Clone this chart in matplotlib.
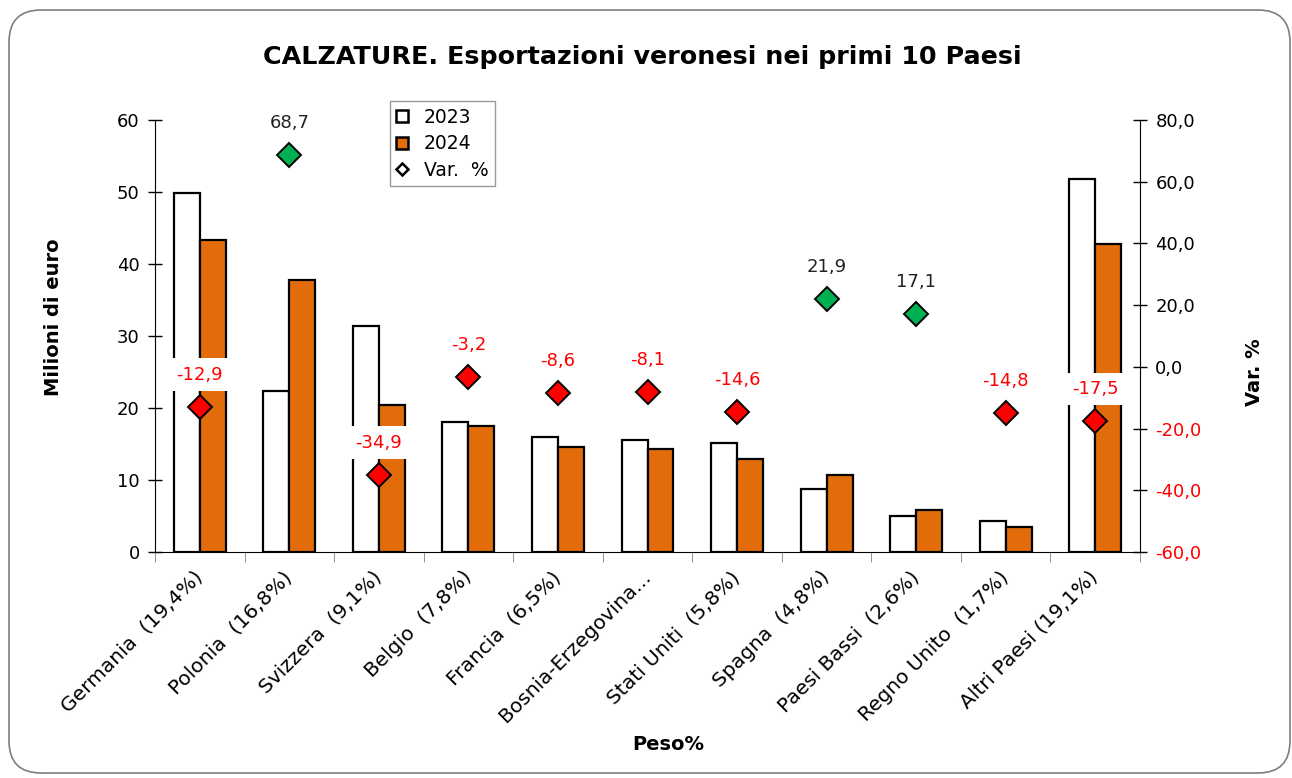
import matplotlib
matplotlib.use("Agg")
import matplotlib.pyplot as plt
import numpy as np
from matplotlib.lines import Line2D
from matplotlib.patches import FancyBboxPatch
from matplotlib.ticker import FuncFormatter

paesi = [
    "Germania  (19,4%)",
    "Polonia  (16,8%)",
    "Svizzera  (9,1%)",
    "Belgio  (7,8%)",
    "Francia  (6,5%)",
    "Bosnia-Erzegovina...",
    "Stati Uniti  (5,8%)",
    "Spagna  (4,8%)",
    "Paesi Bassi  (2,6%)",
    "Regno Unito  (1,7%)",
    "Altri Paesi (19,1%)",
]
val_2023 = [49.9, 22.4, 31.4, 18.1, 16.0, 15.6, 15.1, 8.8, 5.0, 4.3, 51.8]
val_2024 = [43.3, 37.8, 20.4, 17.5, 14.6, 14.3, 12.9, 10.7, 5.8, 3.5, 42.8]
var_pct = [-12.9, 68.7, -34.9, -3.2, -8.6, -8.1, -14.6, 21.9, 17.1, -14.8, -17.5]

ORANGE = "#E36C0A"
GREEN = "#00B050"
RED = "#FF0000"

plt.rcParams["font.family"] = ["DejaVu Sans"]

fig = plt.figure(figsize=(12.92, 7.78), dpi=100)

# rounded frame round the whole chart
bg = fig.add_axes([0, 0, 1, 1], zorder=-10)
bg.set_xlim(0, 1292)
bg.set_ylim(778, 0)
bg.axis("off")
bg.add_patch(FancyBboxPatch((9, 10), 1281, 763,
                            boxstyle="round,pad=0,rounding_size=32",
                            facecolor="white", edgecolor="#7f7f7f", linewidth=1.2))

ax = fig.add_axes([155 / 1292, 1 - 552 / 778, 985 / 1292, 432 / 778])
ax.patch.set_alpha(0)
x = np.arange(len(paesi))
w = 0.29

ax.bar(x - w / 2, val_2023, w, color="white", edgecolor="black", linewidth=1.6, zorder=2)
ax.bar(x + w / 2, val_2024, w, color=ORANGE, edgecolor="black", linewidth=1.6, zorder=2)

ax.set_xlim(-0.5, len(paesi) - 0.5)
ax.set_ylim(0, 60)
ax.set_yticks(np.arange(0, 61, 10))
ax.tick_params(axis="y", direction="inout", length=10, width=1, labelsize=13, pad=6)
ax.set_xticks(x)
ax.set_xticklabels(paesi, rotation=45, ha="right", va="center",
                   rotation_mode="anchor", fontsize=14.5)
ax.tick_params(axis="x", which="major", length=0, pad=16)
ax.set_xticks(np.arange(-0.5, len(paesi), 1), minor=True)
ax.tick_params(axis="x", which="minor", direction="out", length=7, color="#808080")
for s in ["top", "right"]:
    ax.spines[s].set_visible(False)
ax.set_ylabel("Milioni di euro", fontsize=14, fontweight="bold")
ax.yaxis.set_label_coords(-0.0934, 0.544)
ax.set_xlabel("Peso%", fontsize=14, fontweight="bold")
ax.xaxis.set_label_coords(0.521, -0.424)

ax2 = ax.twinx()
ax2.set_ylim(-60, 80)
ax2.set_yticks(np.arange(-60, 81, 20))
ax2.yaxis.set_major_formatter(FuncFormatter(lambda v, p: f"{v:.1f}".replace(".", ",")))
ax2.tick_params(axis="y", direction="inout", length=10, width=1, labelsize=13, pad=6)
for lbl, v in zip(ax2.get_yticklabels(), np.arange(-60, 81, 20)):
    lbl.set_color(RED if v < 0 else "black")
for s in ["top", "left", "bottom"]:
    ax2.spines[s].set_visible(False)
ax2.set_ylabel("Var. %", fontsize=14, fontweight="bold")
ax2.yaxis.set_label_coords(1.1066, 0.417)

for xi, v in zip(x, var_pct):
    col = RED if v < 0 else GREEN
    ax2.plot(xi, v, marker="D", markersize=12.5, markerfacecolor=col,
             markeredgecolor="black", markeredgewidth=1.4, linestyle="none", zorder=5)
    ax2.annotate(f"{v:.1f}".replace(".", ","), (xi, v), xytext=(0, 23),
                 textcoords="offset points", ha="center", va="center",
                 fontsize=13, color=RED if v < 0 else "#222222",
                 bbox=dict(boxstyle="square,pad=0.4", facecolor="white", edgecolor="none"),
                 zorder=4)

handles = [
    Line2D([], [], marker="s", linestyle="none", markersize=9,
           markerfacecolor="white", markeredgecolor="black", markeredgewidth=1.8),
    Line2D([], [], marker="s", linestyle="none", markersize=9,
           markerfacecolor=ORANGE, markeredgecolor="black", markeredgewidth=1.8),
    Line2D([], [], marker="D", linestyle="none", markersize=6,
           markerfacecolor="white", markeredgecolor="black", markeredgewidth=1.8),
]
leg = fig.legend(handles, ["2023", "2024", "Var.  %"], loc="upper left",
                 bbox_to_anchor=(390 / 1292, 1 - 101 / 778), fontsize=13.5,
                 frameon=True, fancybox=False, handlelength=0.6, handletextpad=0.85,
                 borderpad=0.35, labelspacing=0.4, borderaxespad=0)
leg.get_frame().set_edgecolor("#808080")
leg.get_frame().set_linewidth(1.0)

fig.text(642 / 1292, 1 - 57 / 778, "CALZATURE. Esportazioni veronesi nei primi 10 Paesi",
         ha="center", va="center", fontsize=18.3, fontweight="bold")

fig.savefig("out.png", dpi=100)
